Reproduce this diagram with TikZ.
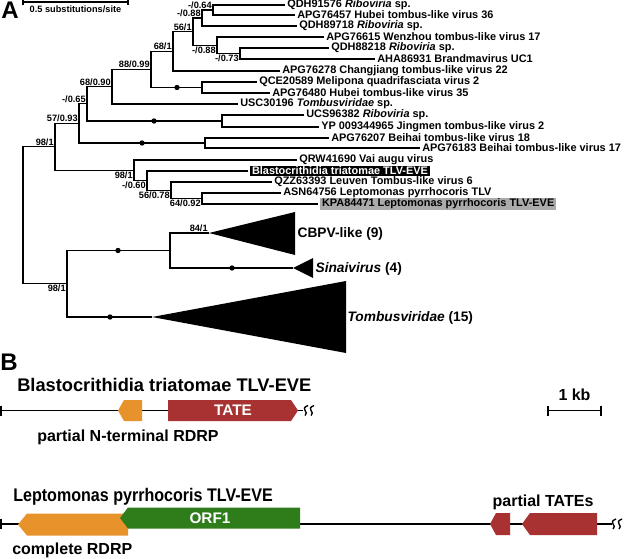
\documentclass[tikz,border=0pt]{standalone}
\usepackage{fontspec}
\setmainfont{Liberation Sans}
\definecolor{rdrp}{RGB}{232,146,44}
\definecolor{tate}{RGB}{168,50,50}
\definecolor{orf}{RGB}{46,125,26}
\definecolor{hilite}{RGB}{170,170,170}
\tikzset{
  branch/.style={line width=0.9pt},
  leaf/.style={anchor=west,inner sep=1.5pt,font=\fontsize{8.2}{9}\selectfont\bfseries},
  support/.style={inner sep=0.8pt,font=\fontsize{6.9}{7}\selectfont\bfseries},
  clade/.style={anchor=west,inner sep=1pt,font=\fontsize{10.3}{12}\selectfont\bfseries},
  bdot/.style={circle,fill,inner sep=0pt,minimum size=4pt},
  genome/.style={line width=1.2pt},
  genetext/.style={font=\fontsize{11.5}{13}\selectfont\bfseries,text=white},
  gcap/.style={anchor=west,inner sep=0pt,font=\fontsize{12}{14}\selectfont\bfseries},
  gname/.style={anchor=west,inner sep=0pt,font=\fontsize{13.7}{16}\selectfont\bfseries},
  panel/.style={font=\fontsize{18}{20}\selectfont\bfseries},
}
\begin{document}
\begin{tikzpicture}[x=0.75pt,y=-0.75pt]
  \useasboundingbox (0,0) rectangle (624,559);
  % panel letters
  \node[panel] (labA) at (10,10) {A};
  \node[panel] (labB) at (9,362) {B};
  % scale bar of the tree
  \coordinate (sb1) at (23,2);
  \coordinate (sb2) at (128,2);
  \draw[branch] (sb1) -- (sb2);
  \draw[branch] (sb1) ++(0,-2) -- ++(0,5);
  \draw[branch] (sb2) ++(0,-2) -- ++(0,5);
  \node[support] (sblab) at (75.5,9.5) {0.5 substitutions/site};
  % leaves
  \node[leaf] (l1) at (285,5) {QDH91576 \textit{Riboviria} sp.};
  \node[leaf] (l2) at (295,15) {APG76457 Hubei tombus-like virus 36};
  \node[leaf] (l3) at (297,26) {QDH89718 \textit{Riboviria} sp.};
  \node[leaf] (l4) at (324,37) {APG76615 Wenzhou tombus-like virus 17};
  \node[leaf] (l5) at (329,48) {QDH88218 \textit{Riboviria} sp.};
  \node[leaf] (l6) at (375,59) {AHA86931 Brandmavirus UC1};
  \node[leaf] (l7) at (280,71) {APG76278 Changjiang tombus-like virus 22};
  \node[leaf] (l8) at (257,82) {QCE20589 Melipona quadrifasciata virus 2};
  \node[leaf] (l9) at (270,93) {APG76480 Hubei tombus-like virus 35};
  \node[leaf] (l10) at (238,104) {USC30196 \textit{Tombusviridae} sp.};
  \node[leaf] (l11) at (304,115) {UCS96382 \textit{Riboviria} sp.};
  \node[leaf] (l12) at (319,127) {YP 009344965 Jingmen tombus-like virus 2};
  \node[leaf] (l13) at (329,138) {APG76207 Beihai tombus-like virus 18};
  \node[leaf] (l14) at (420,148) {APG76183 Beihai tombus-like virus 17};
  \node[leaf] (l15) at (297,160) {QRW41690 Vai augu virus};
  \node[leaf,fill=black,text=white,inner ysep=0.4pt,outer sep=1.5pt] (l16) at (248,171) {Blastocrithidia triatomae TLV-EVE};
  \node[leaf] (l17) at (272,182) {QZZ63393 Leuven Tombus-like virus 6};
  \node[leaf] (l18) at (281,193) {ASN64756 Leptomonas pyrrhocoris TLV};
  \node[leaf,fill=hilite,inner ysep=0.4pt,outer sep=1.5pt] (l19) at (318,204) {KPA84471 Leptomonas pyrrhocoris TLV-EVE};
  % inner nodes
  \coordinate (n064) at (213,10);
  \coordinate (n088a) at (202,18);
  \coordinate (n073) at (240,53.5);
  \coordinate (n088b) at (217,45.25);
  \coordinate (n561) at (193,31.6);
  \coordinate (n681) at (173,51.3);
  \coordinate (nq) at (202,87.5);
  \coordinate (n8899) at (151,69.4);
  \coordinate (n6890) at (112,86.7);
  \coordinate (nu) at (222,121);
  \coordinate (n065) at (87,103.9);
  \coordinate (nb) at (205,143);
  \coordinate (n5793) at (79,123.4);
  \coordinate (n6492) at (202,198.5);
  \coordinate (n5678) at (171,190.25);
  \coordinate (n060) at (147,180.6);
  \coordinate (n981b) at (134,170.3);
  \coordinate (n981a) at (55,146.9);
  \coordinate (ncb) at (170,250.5);
  \coordinate (n981c) at (67,283.75);
  \coordinate (root) at (23,215);
  % collapsed clades
  \coordinate (cbpv) at (209,233);
  \coordinate (sinai) at (293,268);
  \coordinate (tomb) at (152,317);
  \fill (cbpv) -- (295,212) -- (295,255) -- cycle;
  \fill (sinai) -- (313,258) -- (313,278) -- cycle;
  \fill (tomb) -- (346,281) -- (346,353) -- cycle;
  \node[clade] (cbpvlab) at (296,234) {CBPV-like (9)};
  \node[clade] (sinailab) at (314,269) {\textit{Sinaivirus} (4)};
  \node[clade] (tomblab) at (346,318) {\textit{Tombusviridae} (15)};
  % branches
  \draw[branch] (l1.west) -| (n064) |- (l2.west);
  \draw[branch] (n064) -| (n088a) |- (l3.west);
  \draw[branch] (l5.west) -| (n073) |- (l6.west);
  \draw[branch] (l4.west) -| (n088b) |- (n073);
  \draw[branch] (n088a) -| (n561) |- (n088b);
  \draw[branch] (n561) -| (n681) |- (l7.west);
  \draw[branch] (l8.west) -| (nq) |- (l9.west);
  \draw[branch] (n681) -| (n8899) |- (nq);
  \draw[branch] (n8899) -| (n6890) |- (l10.west);
  \draw[branch] (l11.west) -| (nu) |- (l12.west);
  \draw[branch] (n6890) -| (n065) |- (nu);
  \draw[branch] (l13.west) -| (nb) |- (l14.west);
  \draw[branch] (n065) -| (n5793) |- (nb);
  \draw[branch] (l18.west) -| (n6492) |- (l19.west);
  \draw[branch] (l17.west) -| (n5678) |- (n6492);
  \draw[branch] (l16.west) -| (n060) |- (n5678);
  \draw[branch] (l15.west) -| (n981b) |- (n060);
  \draw[branch] (n5793) -| (n981a) |- (n981b);
  \draw[branch] (cbpv) -| (ncb) |- (sinai);
  \draw[branch] (ncb) -| (n981c) |- (tomb);
  \draw[branch] (n981a) -| (root) |- (n981c);
  % dots on branches
  \node[bdot] (d1) at (177,87.5) {};
  \node[bdot] (d2) at (154,121) {};
  \node[bdot] (d3) at (142,143) {};
  \node[bdot] (d4) at (118,250.5) {};
  \node[bdot] (d5) at (232,268) {};
  \node[bdot] (d6) at (110,317) {};
  % support values
  \node[support,above left] (s1) at (n064) {-/0.64};
  \node[support,above left] (s2) at (n088a) {-/0.88};
  \node[support,above left] (s3) at (n561) {56/1};
  \node[support,below left] (s4) at (n088b) {-/0.88};
  \node[support,below left] (s5) at (n073) {-/0.73};
  \node[support,above left] (s6) at (n681) {68/1};
  \node[support,above left] (s7) at (n8899) {88/0.99};
  \node[support,above left] (s8) at (n6890) {68/0.90};
  \node[support,above left] (s9) at (n065) {-/0.65};
  \node[support,above left] (s10) at (n5793) {57/0.93};
  \node[support,above left] (s11) at (n981a) {98/1};
  \node[support,below left] (s12) at (n981b) {98/1};
  \node[support,below left] (s13) at (n060) {-/0.60};
  \node[support,below left] (s14) at (n5678) {56/0.78};
  \node[support,below left] (s15) at (n6492) {64/0.92};
  \node[support,above left] (s16) at (cbpv) {84/1};
  \node[support,below left] (s17) at (n981c) {98/1};
  % genome of Blastocrithidia
  \node[gname] (gt1) at (17,385) {Blastocrithidia triatomae TLV-EVE};
  \coordinate (g1a) at (0,410.5);
  \coordinate (g1b) at (303,410.5);
  \draw[genome] (g1a) -- (g1b);
  \draw[genome] (g1a) ++(0.8,-5) -- ++(0,10);
  \foreach \dx in {0,6}
    \draw[line width=1pt] (305+\dx,415.5) .. controls (310+\dx,412) and (299+\dx,409) .. (308+\dx,405.5);
  \fill[rdrp] (118,410.5) -- (124,400) -- (142,400) -- (142,421) -- (124,421) -- cycle;
  \fill[tate] (168,400) -- (291,400) -- (298,410.5) -- (291,421) -- (168,421) -- cycle;
  \node[genetext] (tate1) at (233,410.5) {TATE};
  \node[gcap] (cap1) at (37,437) {partial N-terminal RDRP};
  % scale bar of the genomes
  \coordinate (kb1) at (548,410.5);
  \coordinate (kb2) at (601,410.5);
  \draw[genome] (kb1) -- (kb2);
  \draw[genome] (kb1) ++(0,-5) -- ++(0,10);
  \draw[genome] (kb2) ++(0,-5) -- ++(0,10);
  \node[gcap,anchor=center] (kblab) at (574.5,395) {1 kb};
  % genome of Leptomonas
  \node[gname] (gt2) at (13,497) {\scalebox{0.88}[1]{Leptomonas pyrrhocoris TLV-EVE}};
  \coordinate (g2a) at (0,524);
  \coordinate (g2b) at (612,524);
  \draw[genome] (g2a) -- (g2b);
  \draw[genome] (g2a) ++(0.8,-5) -- ++(0,10);
  \foreach \dx in {0,6}
    \draw[line width=1pt] (613+\dx,529) .. controls (618+\dx,525.5) and (607+\dx,522.5) .. (616+\dx,519);
  \fill[rdrp] (18,524.5) -- (27,513.5) -- (128,513.5) -- (128,535.5) -- (27,535.5) -- cycle;
  \fill[orf] (120,518) -- (128,507.5) -- (300,507.5) -- (300,528.5) -- (128,528.5) -- cycle;
  \node[genetext] (orf1) at (210,518) {ORF1};
  \fill[tate] (490,524) -- (496,513) -- (510,513) -- (510,535) -- (496,535) -- cycle;
  \fill[tate] (522,524) -- (530,513) -- (597,513) -- (597,535) -- (530,535) -- cycle;
  \node[gcap,anchor=center] (cap3) at (543,502) {partial TATEs};
  \node[gcap] (cap2) at (12,550) {complete RDRP};
\end{tikzpicture}
\end{document}
